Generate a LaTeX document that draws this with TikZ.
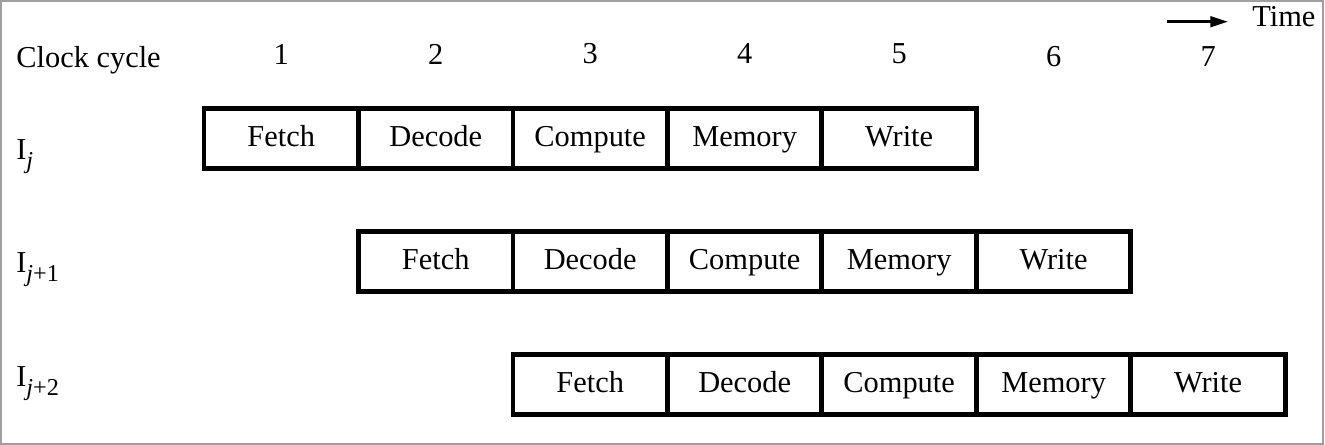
\documentclass[tikz,border=0pt]{standalone}
\usepackage{fontspec}
\setmainfont{Liberation Serif}
\usetikzlibrary{arrows.meta,positioning}
\newcommand\isub[1]{I\raisebox{-5pt}{\fontsize{13.8}{15}\selectfont #1}}

\begin{document}
\begin{tikzpicture}[x=0.02cm,y=-0.02cm,>={Triangle[length=10pt,width=6pt]},
                    node distance=3.09cm,
                    every node/.style={font=\fontsize{17.3}{20}\selectfont},
                    stage/.style={rectangle,draw,line width=2.8pt,minimum width=3.09cm,minimum height=1.19cm,
                                  text height=12pt,text depth=3pt},
                    rowlabel/.style={anchor=base west,inner sep=0pt}]
  \useasboundingbox (0,0) rectangle (1325,445);
  \draw[gray!75,line width=1pt] (1,1) rectangle (1323,444);

  % header
  \node[rowlabel] (clk) at (16,68) {Clock cycle};
  \foreach \n/\y in {1/54,2/54,3/54,4/54,5/54,6/57,7/57}
    \node (n\n) at (126.75+154.5*\n,\y) {\n};
  \node[rowlabel] (time) at (1252,27) {Time};
  \coordinate (t0) at (1167,21.7);
  \draw[->,line width=1.6pt,shorten >=0.48cm] (t0) -- (t0 -| time.west);

  % instruction j
  \node[rowlabel] (i1) at (16,160) {\isub{\textit{j}}};
  \node[stage] (f1) at (281.25,138.5) {Fetch};
  \node[stage] (d1) [right of=f1] {Decode};
  \node[stage] (c1) [right of=d1] {Compute};
  \node[stage] (m1) [right of=c1] {Memory};
  \node[stage] (w1) [right of=m1] {Write};

  % instruction j+1
  \node[rowlabel] (i2) at (16,273) {\isub{\textit{j}+1}};
  \node[stage] (f2) [below of=d1,node distance=2.46cm] {Fetch};
  \node[stage] (d2) [right of=f2] {Decode};
  \node[stage] (c2) [right of=d2] {Compute};
  \node[stage] (m2) [right of=c2] {Memory};
  \node[stage] (w2) [right of=m2] {Write};

  % instruction j+2
  \node[rowlabel] (i3) at (16,387) {\isub{\textit{j}+2}};
  \node[stage] (f3) [below of=d2,node distance=2.46cm] {Fetch};
  \node[stage] (d3) [right of=f3] {Decode};
  \node[stage] (c3) [right of=d3] {Compute};
  \node[stage] (m3) [right of=c3] {Memory};
  \node[stage] (w3) [right of=m3] {Write};
\end{tikzpicture}
\end{document}
